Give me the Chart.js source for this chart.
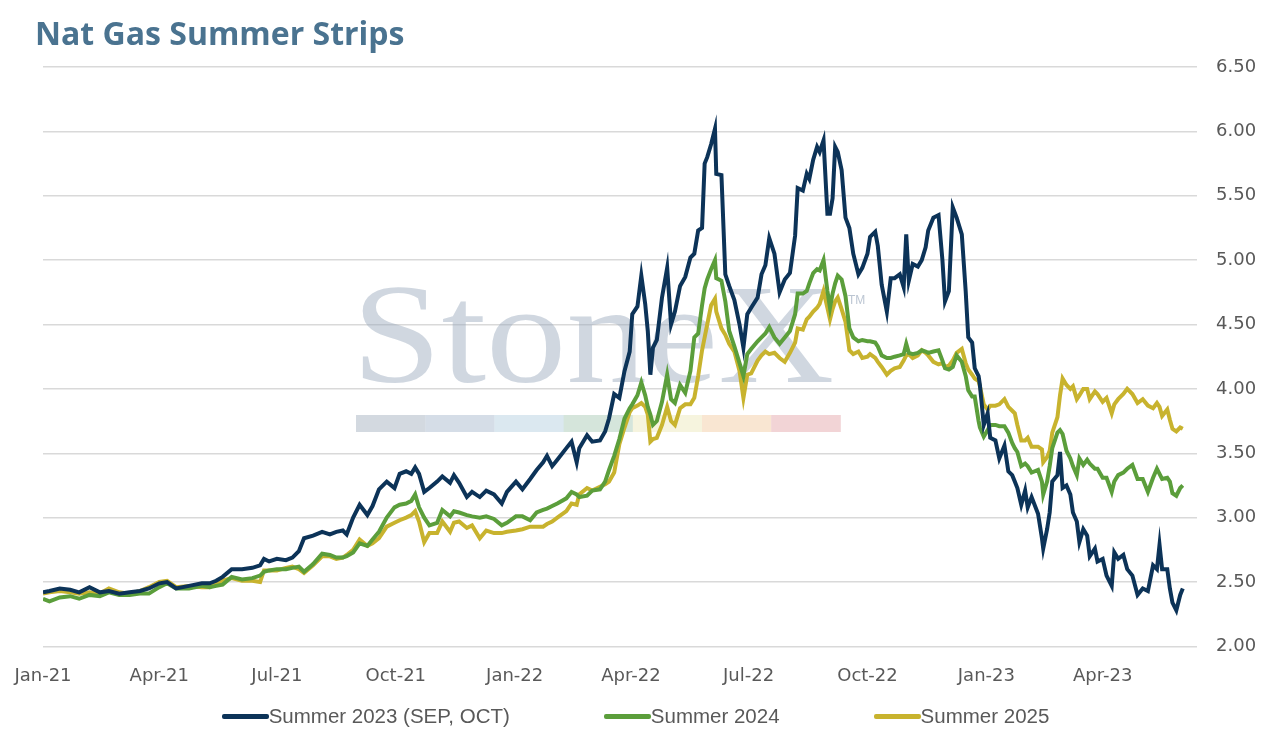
<!DOCTYPE html>
<html lang="en">
<head>
<meta charset="UTF-8">
<title>Nat Gas Summer Strips</title>
<script src="https://cdn.jsdelivr.net/npm/chart.js"></script>
<style>
  body { margin: 0; background: #fff; }
  #wrap { position: relative; width: 1271px; height: 734px; }
  #titulo {
    position: absolute; left: 35px; top: 17px;
    font: 700 32px 'Open Sans', sans-serif; line-height: 32px;
    color: #4a7390; margin: 0;
  }
  #legenda {
    position: absolute; left: 0; top: 704px; width: 1271px; height: 24px;
    display: flex; justify-content: center; align-items: center; gap: 94px;
    font: 20.5px 'Liberation Sans', sans-serif; color: #595959;
  }
  #legenda .item { display: flex; align-items: center; }
  #legenda .amostra { display: inline-block; width: 47px; height: 5px; border-radius: 2px; }
</style>
</head>
<body>
<div id="wrap">
  <div id="titulo">Nat Gas Summer Strips</div>
  <canvas id="stripsChart"></canvas>
  <div id="legenda"></div>
</div>

<script>
// dias desde 2021-01-01
const days = [
  0, 5, 13, 21, 28, 36, 44, 51, 59, 67, 75, 82, 90, 96, 103, 113, 123, 129, 134, 139,
  146, 154, 162, 168, 171, 175, 181, 188, 193, 198, 202, 209, 216, 222,
  227, 232, 235, 240, 245, 251, 255, 260, 266, 272, 276, 281, 285, 288, 291, 295, 299, 305, 309, 315,
  318, 322, 328, 332, 338, 343, 349, 355, 359, 366, 371, 377, 382, 387, 390, 394, 398, 405, 409, 413,
  415, 421, 425, 431,
  435, 438, 442, 446, 450, 454, 456, 460, 463, 466, 468, 470, 472, 475, 479, 483, 486, 489, 493, 497,
  501, 504, 507, 510, 512, 514, 517, 520, 521, 525, 528, 531, 535, 539, 542, 545, 548, 553, 556, 559,
  562, 566, 570, 574, 578, 582, 584, 588, 591, 593, 596, 599, 601, 604, 607, 609, 611, 613, 615, 618,
  621, 624, 627, 631, 634, 638, 640, 644, 646, 649, 653, 656, 659, 663, 666, 668, 670, 673, 677, 680,
  683, 685, 689, 693, 696, 698, 701, 704, 707, 711, 714, 716, 719, 721, 724,
  725, 728, 731, 733, 737, 740, 744, 747, 750, 752, 754, 757, 760, 762, 765, 770, 773, 774, 777, 779,
  781, 785, 787, 789, 792, 795, 797, 800, 802, 805, 808, 810, 814, 816, 820, 823, 827, 829, 832, 836,
  839, 843, 847, 851, 855, 859, 862, 864, 866, 870, 872, 874, 877, 880, 882
];

const summer2023 = [
  2.42, 2.43, 2.45, 2.44, 2.42, 2.46, 2.42, 2.43, 2.41, 2.42, 2.43, 2.45, 2.49, 2.50, 2.45, 2.47, 2.49, 2.49, 2.51, 2.54,
  2.60, 2.60, 2.61, 2.63, 2.68, 2.66, 2.68, 2.67, 2.69, 2.74, 2.84, 2.86, 2.89, 2.87,
  2.89, 2.90, 2.87, 3.00, 3.10, 3.02, 3.09, 3.22, 3.28, 3.23, 3.34, 3.36, 3.34, 3.39, 3.34, 3.20, 3.23, 3.28, 3.32, 3.27,
  3.33, 3.27, 3.16, 3.20, 3.16, 3.21, 3.18, 3.11, 3.20, 3.28, 3.22, 3.30, 3.37, 3.43, 3.48, 3.40, 3.45, 3.54, 3.59, 3.43,
  3.54, 3.64, 3.59, 3.60,
  3.67, 3.77, 3.96, 3.93, 4.14, 4.29, 4.58, 4.64, 4.88, 4.66, 4.45, 4.11, 4.32, 4.38, 4.71, 4.94, 4.50, 4.60, 4.80, 4.87,
  5.02, 5.05, 5.23, 5.25, 5.75, 5.80, 5.90, 6.02, 5.67, 5.66, 4.89, 4.80, 4.69, 4.50, 4.32, 4.58, 4.63, 4.71, 4.89, 4.96,
  5.17, 5.05, 4.75, 4.85, 4.90, 5.19, 5.56, 5.54, 5.67, 5.63, 5.78, 5.88, 5.84, 5.93, 5.36, 5.36, 5.48, 5.88, 5.84, 5.70,
  5.33, 5.25, 5.05, 4.89, 4.94, 5.05, 5.18, 5.22, 5.11, 4.81, 4.60, 4.86, 4.86, 4.89, 4.79, 5.20, 4.84, 4.97, 4.95, 5.00,
  5.10, 5.23, 5.33, 5.35, 5.00, 4.68, 4.76, 5.41, 5.33, 5.20, 4.76, 4.40, 4.36, 4.16, 4.10,
  4.03, 3.72, 3.81, 3.62, 3.60, 3.46, 3.56, 3.36, 3.33, 3.28, 3.23, 3.10, 3.21, 3.08, 3.16, 3.03, 2.84, 2.76, 2.91, 3.04,
  3.28, 3.33, 3.51, 3.23, 3.25, 3.18, 3.04, 2.97, 2.81, 2.91, 2.86, 2.70, 2.76, 2.66, 2.68, 2.55, 2.47, 2.73, 2.68, 2.71,
  2.60, 2.55, 2.40, 2.45, 2.43, 2.63, 2.60, 2.79, 2.60, 2.60, 2.45, 2.34, 2.28, 2.40, 2.45
];

const summer2024 = [
  2.37, 2.35, 2.38, 2.39, 2.37, 2.40, 2.39, 2.42, 2.40, 2.40, 2.41, 2.41, 2.46, 2.49, 2.45, 2.45, 2.47, 2.46, 2.47, 2.48,
  2.54, 2.52, 2.53, 2.55, 2.58, 2.59, 2.60, 2.60, 2.61, 2.62, 2.58, 2.64, 2.72, 2.71,
  2.69, 2.69, 2.70, 2.73, 2.80, 2.78, 2.83, 2.89, 3.00, 3.08, 3.10, 3.11, 3.13, 3.18, 3.08, 3.00, 2.94, 2.96, 3.06, 3.01,
  3.05, 3.04, 3.02, 3.01, 3.00, 3.01, 2.99, 2.94, 2.96, 3.01, 3.01, 2.98, 3.04, 3.06, 3.07, 3.09, 3.11, 3.15, 3.20, 3.18,
  3.16, 3.17, 3.21, 3.22,
  3.28, 3.37, 3.48, 3.61, 3.77, 3.85, 3.88, 3.95, 4.05, 3.95, 3.86, 3.80, 3.72, 3.75, 3.90, 4.11, 3.92, 3.89, 4.03, 3.97,
  4.14, 4.40, 4.43, 4.65, 4.78, 4.85, 4.93, 5.00, 4.86, 4.84, 4.68, 4.45, 4.33, 4.20, 4.10, 4.27, 4.31, 4.37, 4.40, 4.43,
  4.48, 4.40, 4.35, 4.40, 4.45, 4.58, 4.74, 4.74, 4.76, 4.82, 4.90, 4.93, 4.92, 5.00, 4.76, 4.63, 4.74, 4.82, 4.88, 4.85,
  4.72, 4.47, 4.40, 4.37, 4.38, 4.37, 4.37, 4.36, 4.33, 4.26, 4.24, 4.24, 4.25, 4.26, 4.27, 4.35, 4.28, 4.27, 4.28, 4.30,
  4.29, 4.28, 4.29, 4.30, 4.22, 4.16, 4.15, 4.17, 4.26, 4.21, 4.10, 3.99, 3.94, 3.94, 3.75,
  3.70, 3.63, 3.68, 3.72, 3.72, 3.71, 3.71, 3.66, 3.58, 3.54, 3.51, 3.40, 3.42, 3.40, 3.35, 3.37, 3.28, 3.18, 3.28, 3.40,
  3.54, 3.66, 3.68, 3.65, 3.52, 3.46, 3.40, 3.33, 3.46, 3.41, 3.45, 3.42, 3.38, 3.38, 3.31, 3.31, 3.20, 3.28, 3.33, 3.35,
  3.38, 3.41, 3.30, 3.30, 3.20, 3.31, 3.38, 3.34, 3.30, 3.31, 3.28, 3.19, 3.17, 3.23, 3.25
];

const summer2025 = [
  2.41, 2.42, 2.43, 2.42, 2.41, 2.42, 2.41, 2.45, 2.42, 2.41, 2.43, 2.46, 2.50, 2.51, 2.46, 2.47, 2.46, 2.46, 2.49, 2.51,
  2.53, 2.51, 2.51, 2.50, 2.59, 2.59, 2.59, 2.61, 2.62, 2.60, 2.57, 2.63, 2.70, 2.70,
  2.68, 2.69, 2.71, 2.75, 2.83, 2.78, 2.80, 2.84, 2.93, 2.96, 2.98, 3.00, 3.02, 3.05, 2.97, 2.81, 2.88, 2.88, 2.97, 2.89,
  2.96, 2.97, 2.92, 2.94, 2.84, 2.90, 2.88, 2.88, 2.89, 2.90, 2.91, 2.93, 2.93, 2.93, 2.95, 2.97, 3.00, 3.05, 3.11, 3.10,
  3.18, 3.23, 3.21, 3.24,
  3.26, 3.28, 3.35, 3.57, 3.70, 3.82, 3.85, 3.87, 3.89, 3.86, 3.80, 3.59, 3.61, 3.62, 3.72, 3.86, 3.75, 3.72, 3.85, 3.88,
  3.88, 3.93, 4.10, 4.30, 4.40, 4.50, 4.65, 4.70, 4.60, 4.47, 4.42, 4.35, 4.29, 4.14, 3.93, 4.11, 4.12, 4.22, 4.26, 4.29,
  4.27, 4.28, 4.24, 4.21, 4.28, 4.36, 4.47, 4.46, 4.54, 4.56, 4.60, 4.63, 4.66, 4.76, 4.63, 4.54, 4.62, 4.68, 4.71, 4.62,
  4.52, 4.30, 4.27, 4.29, 4.24, 4.25, 4.27, 4.24, 4.21, 4.17, 4.11, 4.14, 4.16, 4.17, 4.22, 4.26, 4.27, 4.24, 4.26, 4.30,
  4.28, 4.26, 4.21, 4.19, 4.20, 4.17, 4.18, 4.22, 4.28, 4.31, 4.20, 4.15, 4.11, 4.08, 4.06,
  4.02, 3.88, 3.84, 3.87, 3.87, 3.88, 3.92, 3.86, 3.83, 3.81, 3.72, 3.60, 3.60, 3.62, 3.55, 3.55, 3.53, 3.43, 3.47, 3.52,
  3.66, 3.78, 3.95, 4.08, 4.03, 4.00, 4.02, 3.92, 3.95, 4.00, 4.00, 3.92, 3.98, 3.96, 3.90, 3.93, 3.81, 3.88, 3.92, 3.96,
  4.00, 3.96, 3.89, 3.92, 3.87, 3.85, 3.89, 3.86, 3.79, 3.84, 3.76, 3.69, 3.67, 3.70, 3.69
];

const tickDays = [0, 90, 181, 273, 365, 455, 546, 638, 730, 820];
const tickLabels = ['Jan-21', 'Apr-21', 'Jul-21', 'Oct-21', 'Jan-22', 'Apr-22', 'Jul-22', 'Oct-22', 'Jan-23', 'Apr-23'];

function pontos(valores) {
    return days.map((d, i) => ({ x: d, y: valores[i] }));
}

// marca d'agua StoneX atras das linhas
const marcaDagua = {
    id: 'marcaDagua',
    beforeDatasetsDraw(chart) {
        const ctx = chart.ctx;
        ctx.save();
        ctx.fillStyle = 'rgba(150,166,186,0.45)';
        ctx.font = "141px 'Liberation Serif', serif";
        ctx.textBaseline = 'alphabetic';
        ctx.translate(352, 382);
        ctx.scale(1.14, 1);
        ctx.fillText('StoneX', 0, 0);
        ctx.restore();

        ctx.save();
        ctx.font = "12px 'Liberation Sans', sans-serif";
        ctx.fillStyle = 'rgba(150,166,186,0.65)';
        ctx.fillText('TM', 848, 304);
        const cores = ['#d3d9e0', '#d5dde7', '#dbe8f0', '#d5e5db', '#f6f4de', '#f9e6d2', '#f2d4d6'];
        cores.forEach((c, i) => {
            ctx.fillStyle = c;
            ctx.fillRect(356 + i * 69.2, 415, 69.6, 17);
        });
        ctx.restore();
    }
};

const ctx = document.getElementById('stripsChart').getContext('2d');
const stripsChart = new Chart(ctx, {
    type: 'line',
    data: {
        datasets: [{
            label: 'Summer 2023 (SEP, OCT)',
            data: pontos(summer2023),
            borderColor: '#0c3358',
            backgroundColor: '#0c3358'
        }, {
            label: 'Summer 2024',
            data: pontos(summer2024),
            borderColor: '#5b9e3b',
            backgroundColor: '#5b9e3b'
        }, {
            label: 'Summer 2025',
            data: pontos(summer2025),
            borderColor: '#c8b32e',
            backgroundColor: '#c8b32e'
        }]
    },
    options: {
        responsive: true,
        maintainAspectRatio: false,
        animation: false,
        layout: {
            padding: { top: 67, left: 43, right: 0, bottom: 28 }
        },
        elements: {
            line: { borderWidth: 4, tension: 0 },
            point: { radius: 0 }
        },
        plugins: {
            legend: { display: false },
            tooltip: { enabled: false }
        },
        scales: {
            x: {
                type: 'linear',
                min: 0,
                max: 893,
                grid: { display: false, drawTicks: false },
                border: { display: false },
                afterBuildTicks: function (scale) {
                    scale.ticks = tickDays.map(v => ({ value: v }));
                },
                afterFit: function (scale) {
                    // o rotulo Jan-21 pode sair do grafico, sem empurrar a area
                    scale.paddingLeft = 0;
                    scale.paddingRight = 0;
                },
                ticks: {
                    padding: 19,
                    maxRotation: 0,
                    autoSkip: false,
                    color: '#595959',
                    font: { family: "'DejaVu Sans', sans-serif", size: 18 },
                    callback: function (value) {
                        const i = tickDays.indexOf(value);
                        return i >= 0 ? tickLabels[i] : '';
                    }
                }
            },
            y: {
                position: 'right',
                min: 2,
                max: 6.5,
                afterFit: function (scale) {
                    scale.width = 74;
                },
                grid: { color: '#d9d9d9', lineWidth: 1.5, drawTicks: false },
                border: { display: false },
                ticks: {
                    stepSize: 0.5,
                    padding: 19,
                    color: '#595959',
                    font: { family: "'DejaVu Sans', sans-serif", size: 18 },
                    callback: v => v.toFixed(2)
                }
            }
        }
    },
    plugins: [marcaDagua]
});

// legenda em HTML, a partir dos datasets
const legenda = document.getElementById('legenda');
stripsChart.data.datasets.forEach(ds => {
    const item = document.createElement('div');
    item.className = 'item';
    const amostra = document.createElement('span');
    amostra.className = 'amostra';
    amostra.style.background = ds.borderColor;
    const texto = document.createElement('span');
    texto.textContent = ds.label;
    item.appendChild(amostra);
    item.appendChild(texto);
    legenda.appendChild(item);
});
</script>
</body>
</html>
